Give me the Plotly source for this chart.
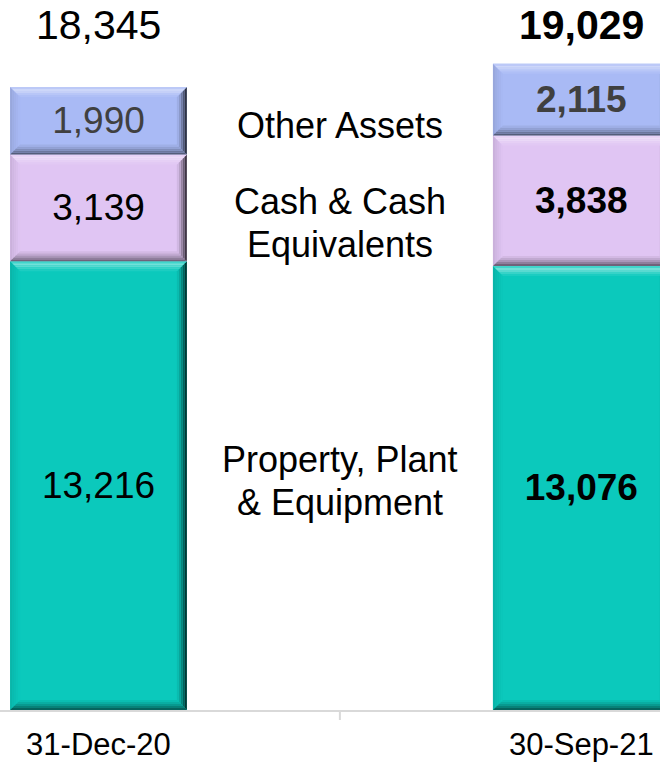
import plotly.graph_objects as go

# ---- data -------------------------------------------------------------
periods = ["31-Dec-20", "30-Sep-21"]
ppe = [13216, 13076]
cash = [3139, 3838]
other = [1990, 2115]
totals = [18345, 19029]
category_lines = {
    "ppe": ["Property, Plant", "& Equipment"],
    "cash": ["Cash & Cash", "Equivalents"],
    "other": ["Other Assets"],
}

# ---- layout constants -------------------------------------------------
W, H = 660, 762
M_B = 52
PLOT_H = H - M_B
Y_MAX = 20907
X_RANGE = [-0.204, 1.163]
BAR_W = 0.366
FONT = "Arial, Liberation Sans, sans-serif"
PX_X = W / (X_RANGE[1] - X_RANGE[0])   # pixels per x unit
PX_Y = PLOT_H / Y_MAX                  # pixels per y unit

series = [
    ("ppe", ppe, "#0bc9bc", "#000000"),
    ("cash", cash, "#e0c5f3", "#000000"),
    ("other", other, "#a9baf5", "#404040"),
]


def hex_rgb(h):
    h = h.lstrip("#")
    return [int(h[i:i + 2], 16) for i in (0, 2, 4)]


def shade(h, f):
    """f > 0 mixes toward white, f < 0 multiplies toward black."""
    r = hex_rgb(h)
    if f >= 0:
        r = [c + (255 - c) * f for c in r]
    else:
        r = [c * (1 + f) for c in r]
    return "rgb(%d,%d,%d)" % tuple(max(0, min(255, round(c))) for c in r)


# bevel profile: shade per strip from the outer edge inward
BEVEL_PX = 10
N_STRIPS = 5
PROFILE = {
    "top": [0.22, 0.42, 0.32, 0.18, 0.07],
    "left": [-0.10, -0.07, -0.05, -0.03, -0.01],
    "right": [-0.72, -0.52, -0.34, -0.18, -0.07],
    "bottom": [-0.50, -0.36, -0.24, -0.14, -0.06],
}

fig = go.Figure()
shapes = []
base = [0, 0]
mids_left = {}
xs = list(range(len(periods)))

for key, vals, color, tcolor in series:
    texts = [f"{v:,}" if i == 0 else f"<b>{v:,}</b>" for i, v in enumerate(vals)]
    fig.add_trace(go.Bar(
        x=xs, y=vals, base=base[:], width=BAR_W,
        marker=dict(color=color, line=dict(width=0)),
        text=texts, textposition="inside", insidetextanchor="middle",
        constraintext="none",
        textfont=dict(family=FONT, size=37, color=tcolor),
        hoverinfo="skip", showlegend=False,
    ))
    for i, v in enumerate(vals):
        x0, x1 = xs[i] - BAR_W / 2, xs[i] + BAR_W / 2
        y0, y1 = base[i], base[i] + v
        step = BEVEL_PX / N_STRIPS
        for s in range(N_STRIPS):
            da, db = s * step, (s + 1) * step
            ax, bx = da / PX_X, db / PX_X
            ay, by = da / PX_Y, db / PX_Y
            polys = {
                "top": [(x0 + ax, y1 - ay), (x1 - ax, y1 - ay), (x1 - bx, y1 - by), (x0 + bx, y1 - by)],
                "bottom": [(x0 + ax, y0 + ay), (x1 - ax, y0 + ay), (x1 - bx, y0 + by), (x0 + bx, y0 + by)],
                "left": [(x0 + ax, y0 + ay), (x0 + ax, y1 - ay), (x0 + bx, y1 - by), (x0 + bx, y0 + by)],
                "right": [(x1 - ax, y0 + ay), (x1 - ax, y1 - ay), (x1 - bx, y1 - by), (x1 - bx, y0 + by)],
            }
            for side in ("left", "right", "top", "bottom"):
                pts = polys[side]
                path = "M " + " L ".join(f"{px:.5f},{py:.2f}" for px, py in pts) + " Z"
                shapes.append(dict(
                    type="path", path=path, xref="x", yref="y", layer="above",
                    fillcolor=shade(color, PROFILE[side][s]), line=dict(width=0),
                ))
    mids_left[key] = base[0] + vals[0] / 2
    base = [b + v for b, v in zip(base, vals)]

annotations = []
# totals above the bars
for i, t in enumerate(totals):
    txt = f"{t:,}" if i == 0 else f"<b>{t:,}</b>"
    annotations.append(dict(
        x=xs[i], y=(PLOT_H - 25) / PLOT_H, xref="x", yref="paper",
        text=txt, showarrow=False, xanchor="center", yanchor="middle",
        font=dict(family=FONT, size=41, color="#000000"),
    ))

# category names between the two bars
LINE_GAP = 43
label_offset = {"ppe": 4.6, "cash": -15.6, "other": -5.0}
for key, lines in category_lines.items():
    n = len(lines)
    for j, line in enumerate(lines):
        shift = label_offset[key] + ((n - 1) / 2 - j) * LINE_GAP
        annotations.append(dict(
            x=0.5, y=mids_left[key], xref="x", yref="y", yshift=shift,
            text=line, showarrow=False, xanchor="center", yanchor="middle",
            font=dict(family=FONT, size=36, color="#000000"),
        ))

# small divider tick between the two periods
mid_paper = (0.5 - X_RANGE[0]) / (X_RANGE[1] - X_RANGE[0])
shapes.append(dict(
    type="line", xref="paper", yref="paper",
    x0=mid_paper, x1=mid_paper, y0=-1 / PLOT_H, y1=-10 / PLOT_H,
    line=dict(color="#d9d9d9", width=2),
))

fig.update_layout(
    width=W, height=H,
    margin=dict(l=0, r=0, t=0, b=M_B, pad=0, autoexpand=False),
    barmode="overlay",
    plot_bgcolor="white", paper_bgcolor="white",
    shapes=shapes, annotations=annotations,
    xaxis=dict(
        range=X_RANGE, tickvals=xs, ticktext=periods, showgrid=False,
        zeroline=False, showline=True, linecolor="#d9d9d9", linewidth=2,
        ticks="", ticklabelstandoff=6, automargin=False,
        tickfont=dict(family=FONT, size=31, color="#000000"),
        fixedrange=True,
    ),
    yaxis=dict(range=[0, Y_MAX], visible=False, fixedrange=True),
)

fig.write_html("out.html")
